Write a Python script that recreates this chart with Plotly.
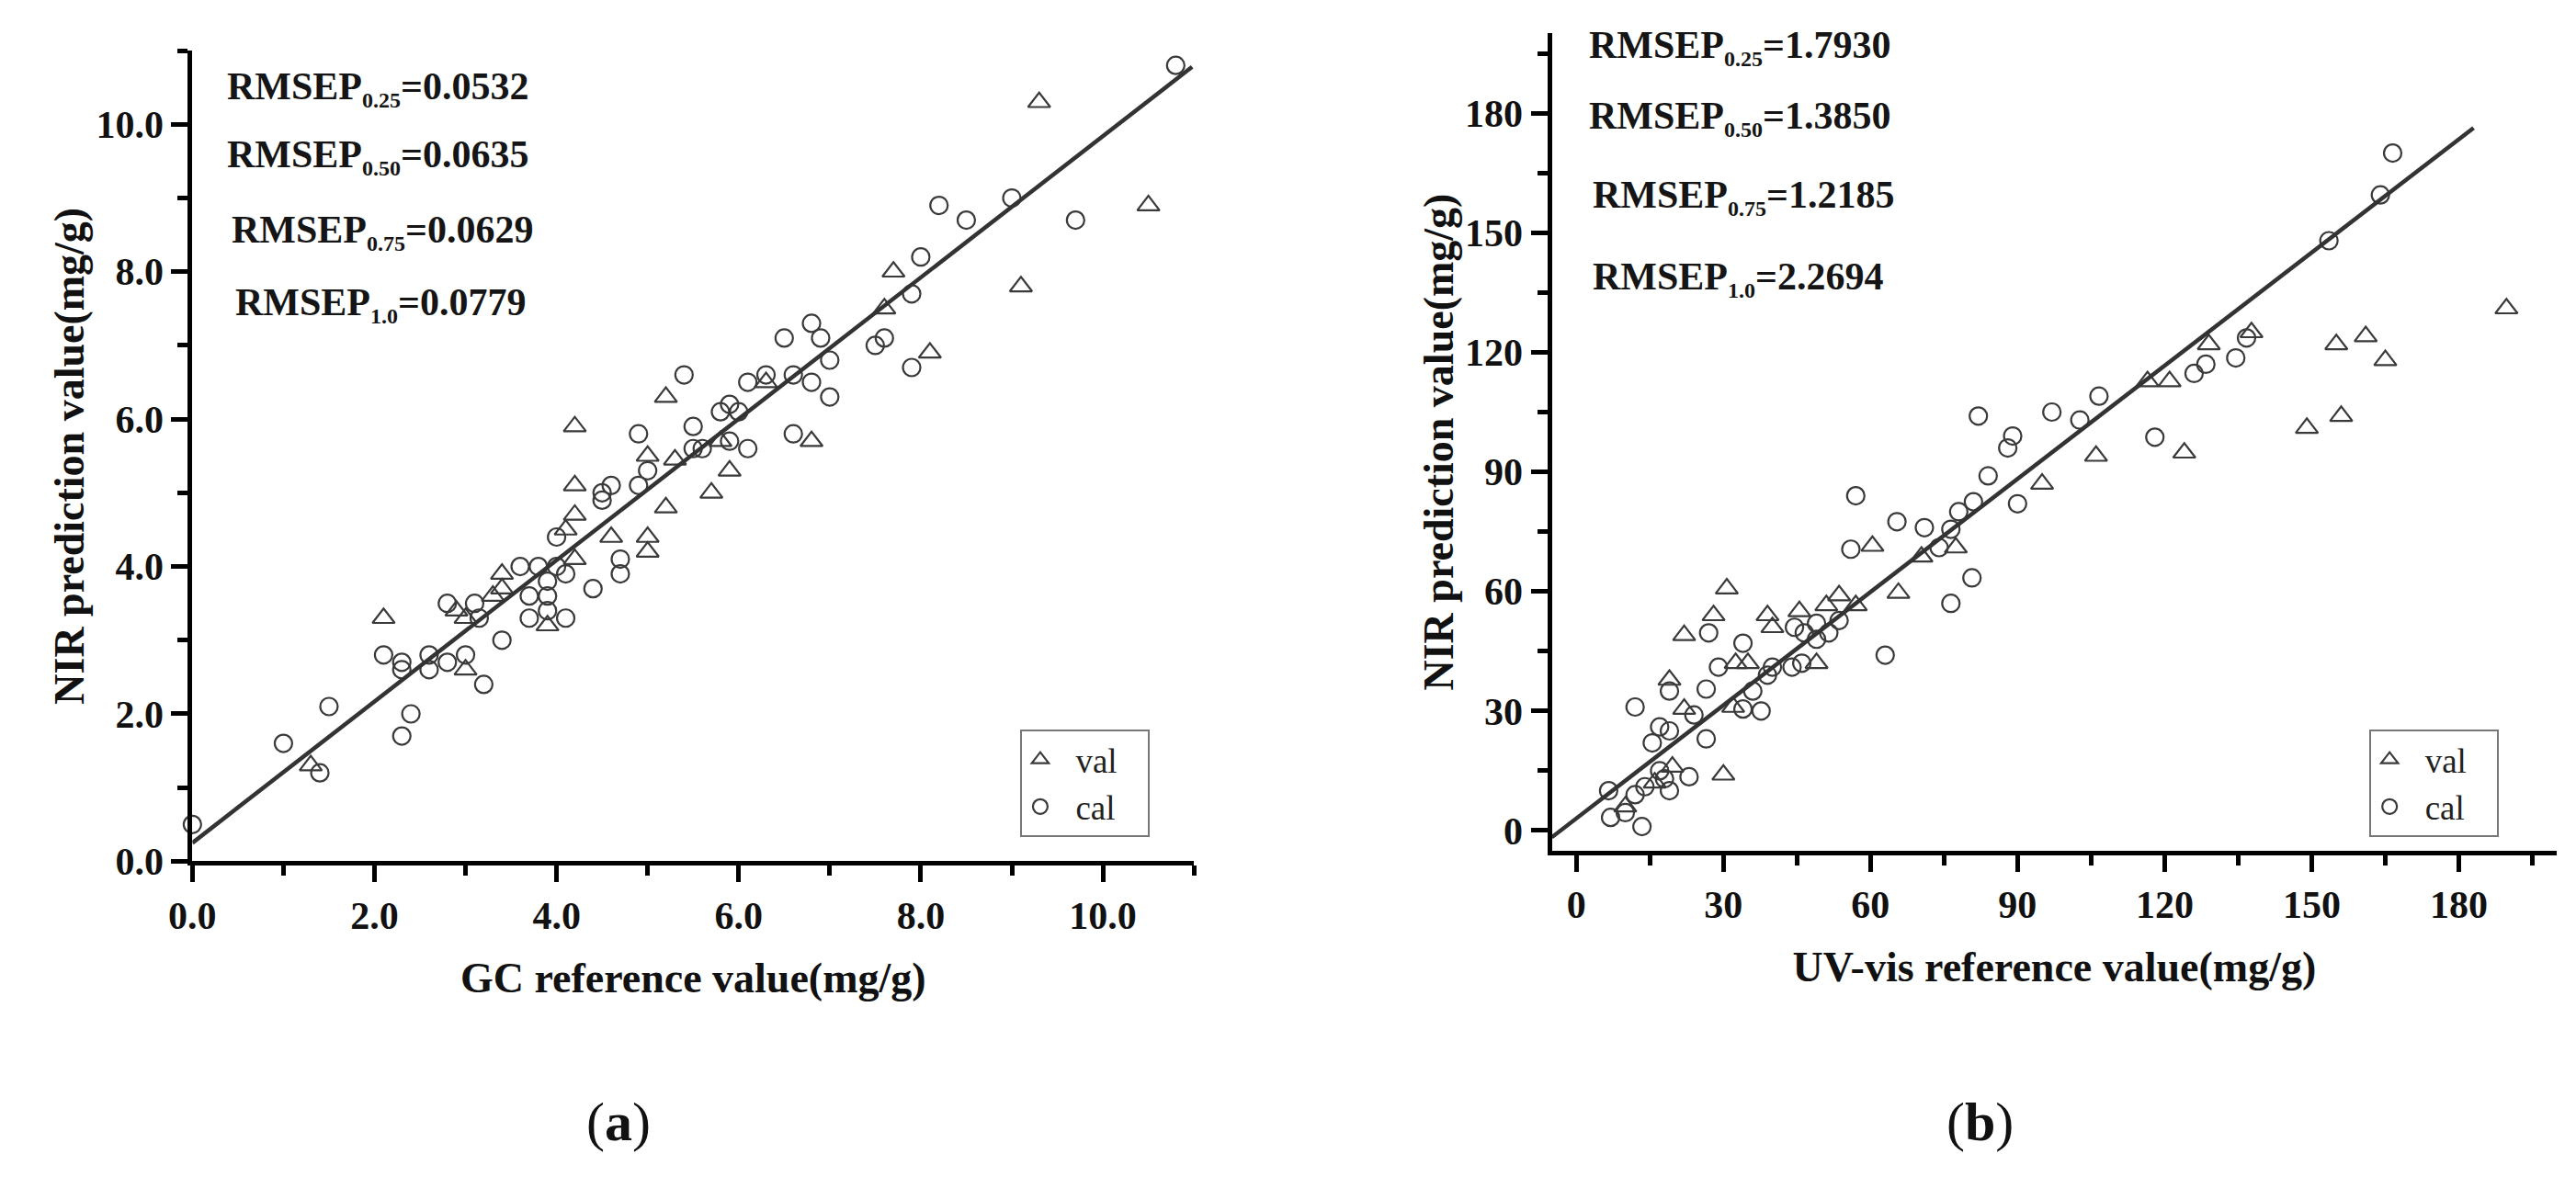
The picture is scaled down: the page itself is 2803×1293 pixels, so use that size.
import plotly.graph_objects as go

W, H = 2803, 1293

# ---------------- Panel (a) data: GC reference vs NIR prediction ----------------
a_cal_x = [0.0, 1.0, 1.4, 1.5, 2.1, 2.3, 2.3, 2.3, 2.4, 2.6, 2.6, 2.8, 2.8, 3.0, 3.1, 3.15, 3.2, 3.4,
           3.6, 3.7, 3.7, 3.8, 3.9, 3.9, 3.9, 4.0, 4.0, 4.1, 4.1, 4.4, 4.5, 4.5, 4.6, 4.7, 4.7, 4.9,
           4.9, 5.0, 5.4, 5.5, 5.5, 5.6, 5.8, 5.9, 5.9, 6.0, 6.1, 6.1, 6.3, 6.5, 6.6, 6.6, 6.8, 6.8,
           6.9, 7.0, 7.0, 7.5, 7.6, 7.9, 7.9, 8.0, 8.2, 8.5, 9.0, 9.7, 10.8]
a_cal_y = [0.5, 1.6, 1.2, 2.1, 2.8, 1.7, 2.7, 2.6, 2.0, 2.8, 2.6, 2.7, 3.5, 2.8, 3.5, 3.3, 2.4, 3.0,
           4.0, 3.3, 3.6, 4.0, 3.8, 3.6, 3.4, 4.0, 4.4, 3.3, 3.9, 3.7, 4.9, 5.0, 5.1, 4.1, 3.9, 5.1,
           5.8, 5.3, 6.6, 5.6, 5.9, 5.6, 6.1, 5.7, 6.2, 6.1, 5.6, 6.5, 6.6, 7.1, 5.8, 6.6, 6.5, 7.3,
           7.1, 6.8, 6.3, 7.0, 7.1, 6.7, 7.7, 8.2, 8.9, 8.7, 9.0, 8.7, 10.8]
a_val_x = [1.3, 2.1, 2.9, 3.0, 3.0, 3.3, 3.4, 3.4, 3.9, 4.1, 4.2, 4.2, 4.2, 4.2, 4.6, 5.0, 5.0,
           5.0, 5.2, 5.2, 5.3, 5.7, 5.8, 5.9, 6.3, 6.8, 7.6, 7.7, 8.1, 9.1, 9.3, 10.5]
a_val_y = [1.3, 3.3, 3.4, 2.6, 3.3, 3.6, 3.7, 3.9, 3.2, 4.5, 4.1, 4.7, 5.1, 5.9, 4.4, 4.4, 4.2,
           5.5, 4.8, 6.3, 5.45, 5.0, 5.7, 5.3, 6.5, 5.7, 7.5, 8.0, 6.9, 7.8, 10.3, 8.9]
a_fit_x = [0.0, 10.98]
a_fit_y = [0.25, 10.78]
a_rmsep = [("0.25", "0.0532"), ("0.50", "0.0635"), ("0.75", "0.0629"), ("1.0", "0.0779")]

# ---------------- Panel (b) data: UV-vis reference vs NIR prediction ----------------
b_cal_x = [7, 10, 13.4, 6.6, 12, 14, 17, 18, 19, 23, 12, 15.5, 17, 19, 24, 26.5, 19, 26.5, 29,
           34, 36, 34, 37.7, 39, 40, 44, 46, 27, 44.5, 46.5, 49, 51.5, 49, 53.6, 63, 56, 57, 65.4,
           71, 74, 76.4, 78, 81, 80.7, 76.4, 82, 84, 89, 88, 90, 97, 102.7, 106.6, 118, 126,
           128.4, 134.5, 136.7, 153.5, 164, 166.5]
b_cal_y = [3.3, 4.5, 1.0, 10, 9, 11, 15, 13, 10, 13.5, 31, 22, 26, 25, 29, 23, 35, 35.5, 41,
           47, 35, 30.5, 30, 39, 41, 41, 42, 49.6, 51, 49.6, 48, 49.6, 52, 52.7, 44, 70.6, 84, 77.5,
           76, 71, 75.6, 80, 82.5, 63.4, 57, 104, 89, 99, 96, 82, 105, 103, 109, 98.7, 114.7,
           117, 118.6, 123.6, 148, 159.5, 170]
b_val_x = [10, 16, 19.6, 19, 22, 30, 32, 32.5, 35, 22, 28, 30.7, 39, 40, 45.5, 49, 51, 53.6, 57,
           65.7, 60.4, 70.4, 77.4, 95, 106, 116.5, 121, 124, 129, 137.7, 149, 155, 156, 161, 165,
           189.7]
b_val_y = [6, 12, 16, 37.8, 30.5, 14, 31, 42, 42, 49, 54, 60.7, 54, 51, 55, 42, 56.5, 59, 56.5,
           59.6, 71.4, 68.7, 71, 87, 94, 112.7, 112.7, 94.8, 122, 125, 101, 122, 104, 124, 118,
           131]
b_fit_x = [-5, 183]
b_fit_y = [-1.7, 176.3]
b_rmsep = [("0.25", "1.7930"), ("0.50", "1.3850"), ("0.75", "1.2185"), ("1.0", "2.2694")]

series_names = ["val", "cal"]

SERIF = "Liberation Serif"
MK = "#3a3a3a"
NB = "\u00a0"

fig = go.Figure()

def add_panel(xa, ya, cal_x, cal_y, val_x, val_y, fit_x, fit_y, legend):
    fig.add_trace(go.Scatter(x=val_x, y=val_y, mode="markers",
                             name=NB * 2 + series_names[0] + NB * 3, xaxis=xa, yaxis=ya,
                             legend=legend, cliponaxis=False,
                             marker=dict(symbol="triangle-up-open", size=21,
                                         color=MK, line=dict(width=2.2, color=MK))))
    fig.add_trace(go.Scatter(x=cal_x, y=cal_y, mode="markers",
                             name=NB * 2 + series_names[1] + NB * 3, xaxis=xa, yaxis=ya,
                             legend=legend, cliponaxis=False,
                             marker=dict(symbol="circle-open", size=19,
                                         color=MK, line=dict(width=2.2, color=MK))))
    fig.add_trace(go.Scatter(x=fit_x, y=fit_y, mode="lines", showlegend=False, xaxis=xa, yaxis=ya,
                             line=dict(color="#333333", width=4.5), hoverinfo="skip"))

add_panel("x", "y", a_cal_x, a_cal_y, a_val_x, a_val_y, a_fit_x, a_fit_y, "legend")
add_panel("x2", "y2", b_cal_x, b_cal_y, b_val_x, b_val_y, b_fit_x, b_fit_y, "legend2")

tickfont = dict(family=SERIF, size=42, color="#111111", weight="bold")
titlefont = dict(family=SERIF, size=46, color="#111111", weight="bold")

def axis(domain, rng, dtick, minor, fmt, title, standoff, anchor):
    return dict(domain=domain, range=rng, tick0=0, dtick=dtick, tickformat=fmt, anchor=anchor,
                showline=True, linewidth=5, linecolor="black", mirror=False,
                ticks="outside", ticklen=18, tickwidth=5, tickcolor="black",
                minor=dict(dtick=minor, tick0=0, ticks="outside", ticklen=11, tickwidth=5,
                           tickcolor="black", showgrid=False),
                showgrid=False, zeroline=False, tickfont=tickfont,
                title=dict(text=title, font=titlefont, standoff=standoff))

def px_x(p):
    return p / W

def px_y(p):
    return 1 - p / H

legend_style = dict(xanchor="left", yanchor="top",
                    bordercolor="#777777", borderwidth=2, bgcolor="rgba(255,255,255,0)",
                    font=dict(family=SERIF, size=37, color="#222222"),
                    tracegroupgap=6)

fig.update_layout(
    width=W, height=H, margin=dict(l=0, r=0, t=0, b=0),
    paper_bgcolor="white", plot_bgcolor="white", showlegend=True,
    xaxis=axis([px_x(177), px_x(1277)], [0, 11], 2, 1, ".1f", "GC reference value(mg/g)", 30, "y"),
    yaxis=axis([px_y(947), px_y(48)], [0, 11], 2, 1, ".1f", "NIR prediction value(mg/g)", 0, "x"),
    xaxis2=axis([px_x(1670), px_x(2774)], [-5, 200], 30, 15, "d", "UV-vis reference value(mg/g)", 30, "y2"),
    yaxis2=axis([px_y(935), px_y(29)], [-5, 200], 30, 15, "d", "NIR prediction value(mg/g)", 0, "x2"),
    legend=dict(x=px_x(1086), y=px_y(801), **legend_style),
    legend2=dict(x=px_x(2568), y=px_y(801), **legend_style),
)

ann = []
def rmsep_block(items, x0s, baselines):
    for (sub, val), x0, b in zip(items, x0s, baselines):
        txt = ("<b>RMSEP<sub><span style='font-size:24px'>%s</span></sub>=%s</b>" % (sub, val))
        ann.append(dict(text=txt, xref="paper", yref="paper",
                        x=px_x(x0), y=px_y(b - 14), xanchor="left", yanchor="middle",
                        showarrow=False, font=dict(family=SERIF, size=42, color="#151515")))

rmsep_block(a_rmsep, [213, 213, 218, 222], [104, 180, 263, 344])
rmsep_block(b_rmsep, [1709, 1709, 1713, 1713], [58, 137, 224, 315])

for lab, cx in (("a", 645), ("b", 2140)):
    ann.append(dict(text="(<b>%s</b>)" % lab, xref="paper", yref="paper", x=px_x(cx), y=px_y(1236),
                    xanchor="center", yanchor="middle", showarrow=False,
                    font=dict(family=SERIF, size=60, color="#111111")))

fig.update_layout(annotations=ann)
fig.write_html("out.html")
